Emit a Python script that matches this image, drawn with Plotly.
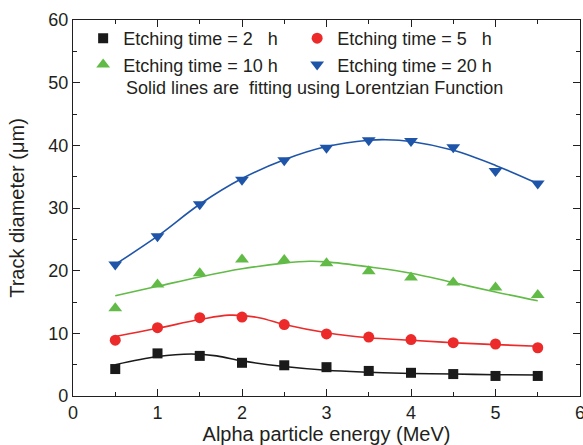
import plotly.graph_objects as go

energy = [0.5, 1.0, 1.5, 2.0, 2.5, 3.0, 3.5, 4.0, 4.5, 5.0, 5.5]
d_2h = [4.3, 6.8, 6.4, 5.3, 4.9, 4.6, 4.0, 3.7, 3.5, 3.2, 3.2]
d_5h = [8.9, 10.9, 12.5, 12.6, 11.4, 9.9, 9.4, 9.0, 8.5, 8.3, 7.7]
d_10h = [14.0, 17.8, 19.6, 21.8, 21.7, 21.2, 19.9, 18.9, 18.1, 17.3, 16.1]
d_20h = [21.0, 25.5, 30.6, 34.5, 37.6, 39.6, 40.8, 40.7, 39.7, 35.9, 33.9]

fit_x_2h = [0.5, 1.0, 1.4, 1.7, 2.0, 2.5, 3.0, 3.5, 4.0, 4.5, 5.0, 5.5]
fit_2h = [5.0, 6.3, 6.7, 6.4, 5.6, 4.7, 4.1, 3.8, 3.6, 3.5, 3.4, 3.35]
fit_x_5h = [0.5, 1.0, 1.5, 1.85, 2.2, 2.5, 3.0, 3.5, 4.0, 4.5, 5.0, 5.5]
fit_5h = [9.5, 10.8, 12.2, 12.9, 12.5, 11.4, 10.1, 9.3, 8.9, 8.5, 8.2, 7.95]
fit_x_10h = [0.5, 1.0, 1.5, 2.0, 2.5, 2.8, 3.0, 3.5, 4.0, 4.5, 5.0, 5.5]
fit_10h = [16.0, 17.5, 19.0, 20.3, 21.2, 21.5, 21.4, 20.6, 19.6, 18.1, 16.6, 15.2]
fit_x_20h = [0.5, 1.0, 1.5, 2.0, 2.5, 3.0, 3.5, 3.7, 4.0, 4.5, 5.0, 5.5]
fit_20h = [21.0, 25.5, 30.6, 34.7, 37.7, 39.8, 40.8, 40.9, 40.6, 39.2, 36.8, 33.9]

labels = ["Etching time = 2   h", "Etching time = 5   h",
          "Etching time = 10 h", "Etching time = 20 h"]
note = "Solid lines are  fitting using Lorentzian Function"

colors = ["#1a1a1a", "#ec2a2a", "#61bb46", "#1f55a8"]
symbols = ["square", "circle", "triangle-up", "triangle-down"]
sizes = [10, 11, 12, 12]

FONT = "Liberation Sans, Arial"
INK = "#231f20"

fig = go.Figure()
fits = [(fit_x_2h, fit_2h), (fit_x_5h, fit_5h), (fit_x_10h, fit_10h), (fit_x_20h, fit_20h)]
for (fx, fy), c in zip(fits, colors):
    fig.add_trace(go.Scatter(x=fx, y=fy, mode="lines", showlegend=False,
                             line=dict(color=c, width=1.6, shape="spline", smoothing=1.0),
                             hoverinfo="skip"))
for ys, lab, c, s, sz in zip([d_2h, d_5h, d_10h, d_20h], labels, colors, symbols, sizes):
    fig.add_trace(go.Scatter(x=energy, y=ys, mode="markers", name=lab,
                             marker=dict(color=c, symbol=s, size=sz, line=dict(width=0))))

axis_common = dict(showline=True, linecolor=INK, linewidth=1.3, mirror="ticks",
                   ticks="inside", ticklen=7, tickwidth=1.2, tickcolor=INK,
                   showgrid=False, zeroline=False, automargin=False,
                   ticklabeloverflow="allow",
                   tickfont=dict(family=FONT, size=18, color=INK),
                   minor=dict(ticks="inside", ticklen=4, tickwidth=1.1, tickcolor=INK))

fig.update_xaxes(range=[0, 6], dtick=1, minor_dtick=0.5,
                 title=dict(text="Alpha particle energy (MeV)", standoff=6,
                            font=dict(family=FONT, size=20, color=INK)),
                 **axis_common)
fig.update_yaxes(range=[0, 60], dtick=10, minor_dtick=5,
                 title=dict(text="Track diameter (μm)", standoff=18,
                            font=dict(family=FONT, size=20, color=INK)),
                 **axis_common)

fig.update_layout(
    width=583, height=445,
    margin=dict(l=73, r=3, t=20, b=49),
    plot_bgcolor="white", paper_bgcolor="white",
    font=dict(family=FONT, color=INK),
    legend=dict(orientation="h", x=0.02, y=1.0, xanchor="left", yanchor="top",
                entrywidth=169, entrywidthmode="pixels", itemwidth=30,
                bgcolor="rgba(0,0,0,0)", tracegroupgap=0,
                font=dict(family=FONT, size=18, color=INK)),
    annotations=[dict(text=note, xref="paper", yref="paper", x=0.1, y=0.818,
                      xanchor="left", yanchor="middle", showarrow=False,
                      font=dict(family=FONT, size=18, color=INK))],
)

fig.write_html("out.html", config={"displayModeBar": False},
               post_script="document.body.style.margin='0';document.body.style.overflow='hidden';")
